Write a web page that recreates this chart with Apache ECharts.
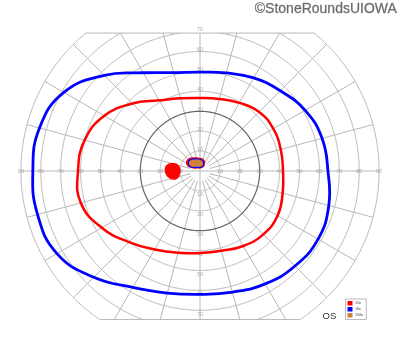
<!DOCTYPE html>
<html><head><meta charset="utf-8">
<script src="https://cdn.jsdelivr.net/npm/echarts@6/dist/echarts.min.js"></script>
<style>html,body{margin:0;padding:0;background:#fff}#c{width:400px;height:352px}</style>
</head><body><div id="c"></div>
<script>
// ---- data (degrees of visual field) ----
const meridians = [0,15,30,45,60,75,90,105,120,135,150,165,180,195,210,225,240,255,270,285,300,315,330,345];
const i4eEcc = [64.3,63.5,61,57,54,51,49.7,51.2,57,68,79,83.5,84,84.5,83,75.5,67.5,63.5,62,63,65.5,67.5,68.5,67];
const i2eEcc = [41.7,42,42.5,42,39.5,37.5,36.7,37.8,41,48,55.5,60,61.3,62,57,50.5,45.5,42.5,41.2,41.5,43.5,45,45,43];
// blind spot (I2e, filled) outline x,y
const blindX = [-13.6,-11.2,-9.8,-10.1,-11.4,-13.4,-15.6,-17.4,-17.6,-16.3];
const blindY = [4.0,3.3,1.0,-1.8,-3.9,-4.4,-3.5,-1.2,1.6,3.4];
// central area: I2e outline, I4e outline, III4e fill
const centI2eX = [-7,-6,-3,0,2.2,2.5,1.5,-1,-4,-6.3];
const centI2eY = [4.5,6.2,6.9,6.6,5.5,3.5,1.8,1.3,1.4,2.5];
const centI4eX = [-5.9,-5,-2.5,0,1.6,1.8,0.8,-2,-4.5,-5.7];
const centI4eY = [4.3,5.6,6.1,5.9,4.8,3.2,2.0,1.8,2.0,3.0];
// grid
const circleRadii = [10,20,30,40,50,60,70,80,90];
const strongCircle = 30;
const meridianStep = 15;
const hTicks = [10,20,30,40,50,60,70,80,90];
const vTicks = [10,20,30,40,50,60,70];
const clipTop = 69.3, clipBottom = -74.6, fieldMax = 90;
const legendNames = ['I2e','I4e','III4e'];
const colors = {I2e:'#ff0000', I4e:'#0000ff', III4e:'#d2803a'};

// ---- helpers ----
const rad = d => d*Math.PI/180;
const polar = (a,r) => [r*Math.cos(rad(a)), r*Math.sin(rad(a))];
function arcPts(r, a0, a1){ const pts=[]; const n=Math.max(8,Math.ceil(Math.abs(a1-a0)*2)); for(let i=0;i<=n;i++){const a=a0+(a1-a0)*i/n; pts.push(polar(a,r));} return pts; }
function circleLines(r){
  const out=[];
  if (r<=clipTop && r<=-clipBottom){ out.push(arcPts(r,0,360)); return out; }
  const aT = r>clipTop ? Math.asin(clipTop/r)*180/Math.PI : 90;
  const aB = r>-clipBottom ? Math.asin(-clipBottom/r)*180/Math.PI : 90;
  out.push(arcPts(r,-aB,aT));
  out.push(arcPts(r,180-aT,180+aB));
  return out;
}
const lightLines=[], strongLines=[];
circleRadii.forEach(r=>{ (r===strongCircle?strongLines:lightLines).push(...circleLines(r)); });
for(let a=0;a<360;a+=meridianStep){
  const s=Math.sin(rad(a));
  let rEnd=fieldMax;
  if (s>1e-9) rEnd=Math.min(rEnd, clipTop/s);
  if (s<-1e-9) rEnd=Math.min(rEnd, -clipBottom/(-s));
  const r0 = (a%90===0)?0:5;
  lightLines.push([polar(a,r0), polar(a,rEnd)]);
}
// chords
const wTop=Math.sqrt(fieldMax*fieldMax-clipTop*clipTop), wBot=Math.sqrt(fieldMax*fieldMax-clipBottom*clipBottom);
lightLines.push([[-wTop,clipTop],[wTop,clipTop]]);
lightLines.push([[-wBot,clipBottom],[wBot,clipBottom]]);

const isoPts = ecc => meridians.map((m,i)=>polar(m,ecc[i]));
const zip = (xs,ys) => xs.map((x,i)=>[x,ys[i]]);

function polySeries(name, pts, stroke, fill, lw, smooth, z){
  return { type:'custom', name, coordinateSystem:'cartesian2d', xAxisIndex:0, yAxisIndex:0, silent:true, z,
    itemStyle:{color: colors[name]}, data:[[0,0]],
    renderItem:(params, api)=>({ type:'polygon',
      shape:{ points: pts.map(p=>api.coord(p)), smooth },
      style:{ fill: fill||'none', stroke: stroke||'none', lineWidth: lw } }) };
}

const labelData=[];
hTicks.forEach(t=>{ labelData.push({value:[t,0],o:[0,0]}); labelData.push({value:[-t,0],o:[0,0]}); });
vTicks.forEach(t=>{ labelData.push({value:[0,t],o:[0,-2]}); labelData.push({value:[0,-t],o:[0,4]}); });

const chart = echarts.init(document.getElementById('c'), null, {renderer:'canvas'});
chart.setOption({
  animation:false,
  backgroundColor:'#fff',
  grid:{left:1, top:11.8, width:398, height:318.4, show:false},
  xAxis:{type:'value', min:-100, max:100, show:false},
  yAxis:{type:'value', min:-80, max:80, show:false},
  legend:{ data:legendNames, orient:'vertical', left:345.5, top:299, itemWidth:5, itemHeight:4.5, itemGap:1.5,
    icon:'rect', textStyle:{fontSize:4, color:'#444', padding:[0,0,0,-2]}, borderColor:'#aaa', borderWidth:0.8,
    backgroundColor:'#fff', padding:[2,3,2,2], selectedMode:false },
  graphic:[
    {type:'text', right:3, top:1.5, style:{text:'©StoneRoundsUIOWA', font:'14px "Liberation Sans", Arial, sans-serif', fill:'#6a6a6a', stroke:'#8a8a8a', lineWidth:0.3}},
    {type:'text', left:322.5, top:311.5, style:{text:'OS', font:'9.5px "Liberation Sans", Arial, sans-serif', fill:'#333'}}
  ],
  series:[
    {type:'lines', coordinateSystem:'cartesian2d', polyline:true, silent:true, z:1,
      lineStyle:{color:'#b8b8b8', width:1, opacity:1}, data: lightLines.map(c=>({coords:c}))},
    {type:'lines', coordinateSystem:'cartesian2d', polyline:true, silent:true, z:2,
      lineStyle:{color:'#666', width:1.2, opacity:1}, data: strongLines.map(c=>({coords:c}))},
    {type:'scatter', silent:true, symbolSize:0, z:3, data:labelData.map(d=>({value:d.value, label:{offset:d.o}})),
      label:{show:true, position:'inside', fontSize:5.5, color:'#999', fontFamily:'Liberation Sans',
        formatter:p=>String(Math.abs(p.value[0]||p.value[1]))}},
    polySeries('I4e', isoPts(i4eEcc), colors.I4e, null, 2.8, 0.45, 5),
    polySeries('I2e', isoPts(i2eEcc), colors.I2e, null, 2.5, 0.45, 5),
    polySeries('I2e', zip(blindX,blindY), null, colors.I2e, 0, 0.5, 5),
    polySeries('I2e', zip(centI2eX,centI2eY), null, colors.I2e, 0, 0.5, 5),
    polySeries('III4e', zip(centI4eX,centI4eY), colors.I4e, colors.III4e, 1.2, 0.5, 6)
  ]
});
</script></body></html>
